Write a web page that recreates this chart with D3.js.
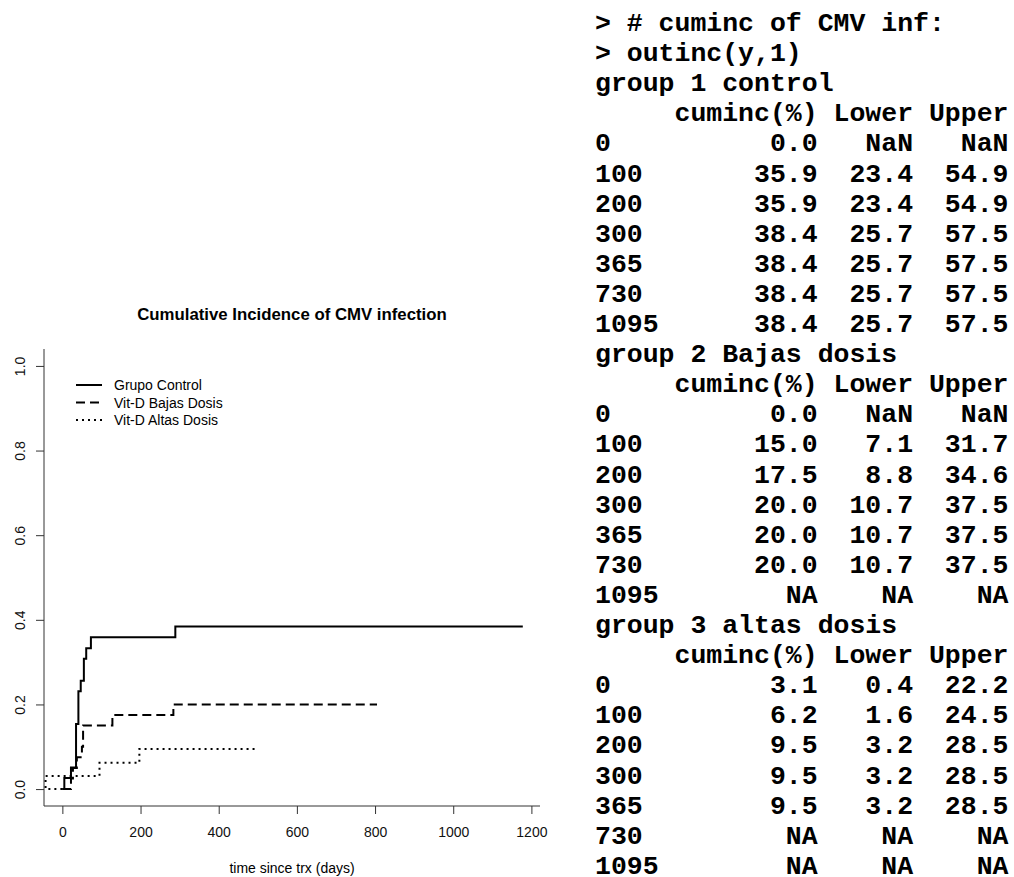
<!DOCTYPE html>
<html>
<head>
<meta charset="utf-8">
<script src="https://cdn.jsdelivr.net/npm/d3@7"></script>
<style>
  html, body { margin: 0; padding: 0; background: #fff; }
  svg { display: block; }
  .mono text { font-family: "Liberation Mono", "Courier New", monospace; font-weight: bold; white-space: pre; }
  .sans { font-family: "Liberation Sans", Arial, sans-serif; }
</style>
</head>
<body>
<svg id="chart" width="1014" height="877"></svg>
<script>
// Cumulative incidence step curves: [day, cumulative incidence]
const controlSteps = [[0, 0], [5, 0.026], [22, 0.051], [35, 0.154], [41, 0.231], [47, 0.256], [55, 0.308], [61, 0.333], [73, 0.359], [289, 0.384], [1178, 0.384]];
const bajasSteps   = [[0, 0], [22, 0.025], [27, 0.05], [37, 0.075], [50, 0.10], [53, 0.15], [128, 0.175], [284, 0.20], [805, 0.20]];
const altasSteps   = [[0, 0], [-43, 0.031], [95, 0.062], [197, 0.095], [501, 0.095]];

const seriesNames = ["Grupo Control", "Vit-D Bajas Dosis", "Vit-D Altas Dosis"];
const xTicks = [0, 200, 400, 600, 800, 1000, 1200];
const yTicks = [0.0, 0.2, 0.4, 0.6, 0.8, 1.0];

// Printed cumulative incidence summary (%), with confidence bounds
const summaryTimes = ["0", "100", "200", "300", "365", "730", "1095"];
const groupTitles = ["group 1 control", "group 2 Bajas dosis", "group 3 altas dosis"];
const controlTable = [["0.0", "NaN", "NaN"], ["35.9", "23.4", "54.9"], ["35.9", "23.4", "54.9"], ["38.4", "25.7", "57.5"], ["38.4", "25.7", "57.5"], ["38.4", "25.7", "57.5"], ["38.4", "25.7", "57.5"]];
const bajasTable   = [["0.0", "NaN", "NaN"], ["15.0", "7.1", "31.7"], ["17.5", "8.8", "34.6"], ["20.0", "10.7", "37.5"], ["20.0", "10.7", "37.5"], ["20.0", "10.7", "37.5"], ["NA", "NA", "NA"]];
const altasTable   = [["3.1", "0.4", "22.2"], ["6.2", "1.6", "24.5"], ["9.5", "3.2", "28.5"], ["9.5", "3.2", "28.5"], ["9.5", "3.2", "28.5"], ["NA", "NA", "NA"], ["NA", "NA", "NA"]];

const svg = d3.select("#chart");

// ---- plot region ----
const plotL = 44, plotR = 540, plotT = 349, plotB = 806;
const x = d3.scaleLinear().domain([-47, 1222]).range([plotL, plotR]);
const y = d3.scaleLinear().domain([-0.04, 1.04]).range([plotB, plotT]);

// L-shaped frame
svg.append("path")
  .attr("d", `M${plotL},${plotT}V${plotB}H${plotR}`)
  .attr("fill", "none").attr("stroke", "#333").attr("stroke-width", 1);

// x axis
const gx = svg.append("g")
  .attr("transform", `translate(0,${plotB})`)
  .call(d3.axisBottom(x).tickValues(xTicks).tickSize(8).tickPadding(13).tickFormat(d3.format("d")));
gx.select(".domain").remove();
gx.selectAll(".tick line").attr("stroke", "#333");
gx.selectAll("text").attr("font-size", 14).attr("fill", "#111").attr("font-family", "Liberation Sans, Arial, sans-serif");

// y axis with rotated labels
const gy = svg.append("g")
  .attr("transform", `translate(${plotL},0)`)
  .call(d3.axisLeft(y).tickValues(yTicks).tickSize(8).tickFormat(d3.format(".1f")));
gy.select(".domain").remove();
gy.selectAll(".tick line").attr("stroke", "#333");
gy.selectAll("text")
  .attr("x", 0).attr("dy", 0)
  .attr("transform", "translate(-19,0) rotate(-90)")
  .attr("text-anchor", "middle")
  .attr("font-size", 14).attr("fill", "#111")
  .attr("font-family", "Liberation Sans, Arial, sans-serif");

// titles
svg.append("text").attr("class", "sans")
  .attr("x", (plotL + plotR) / 2).attr("y", 320)
  .attr("text-anchor", "middle").attr("font-size", 16.8).attr("font-weight", "bold")
  .text("Cumulative Incidence of CMV infection");
svg.append("text").attr("class", "sans")
  .attr("x", (plotL + plotR) / 2).attr("y", 873)
  .attr("text-anchor", "middle").attr("font-size", 14)
  .text("time since trx (days)");

// curves
const dashes = [null, "9,5", "2,4"];
const stepLine = d3.line().x(d => x(d[0])).y(d => y(d[1])).curve(d3.curveStepAfter);
[controlSteps, bajasSteps, altasSteps].forEach((s, i) => {
  svg.append("path").datum(s)
    .attr("d", stepLine)
    .attr("fill", "none").attr("stroke", "#000").attr("stroke-width", 2)
    .attr("stroke-dasharray", dashes[i]);
});

// legend
const legend = svg.append("g").attr("class", "sans");
seriesNames.forEach((name, i) => {
  const ly = 385 + i * 17.5;
  legend.append("line").attr("x1", 76).attr("x2", 102).attr("y1", ly).attr("y2", ly)
    .attr("stroke", "#000").attr("stroke-width", 2).attr("stroke-dasharray", dashes[i]);
  legend.append("text").attr("x", 114).attr("y", ly + 5).attr("font-size", 14).text(name);
});

// ---- console output listing (fixed-width columns) ----
const fmt = (s, w) => s.padStart(w, " ");
const lines = ["> # cuminc of CMV inf:", "> outinc(y,1)"];
[controlTable, bajasTable, altasTable].forEach((tbl, g) => {
  lines.push(groupTitles[g]);
  lines.push("     cuminc(%) Lower Upper");
  tbl.forEach((r, k) => {
    lines.push(summaryTimes[k].padEnd(4, " ") + " " + fmt(r[0], 9) + " " + fmt(r[1], 5) + " " + fmt(r[2], 5));
  });
});
const con = svg.append("g").attr("class", "mono");
lines.forEach((t, i) => {
  con.append("text")
    .attr("xml:space", "preserve")
    .style("white-space", "pre")
    .attr("x", 595).attr("y", 31 + i * 30.1)
    .attr("font-size", 26.5).attr("fill", "#000").text(t);
});
</script>
</body>
</html>
